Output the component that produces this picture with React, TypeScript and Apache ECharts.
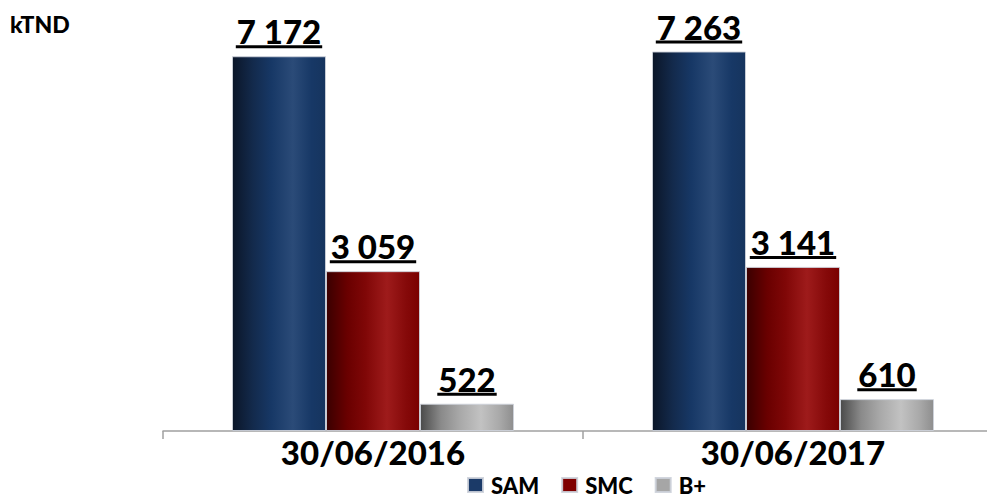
import React, { useEffect, useRef } from "react";
import * as echarts from "echarts";

const categories = ["30/06/2016", "30/06/2017"];
const seriesNames = ["SAM", "SMC", "B+"];
const samValues = [7172, 7263];
const smcValues = [3059, 3141];
const bplusValues = [522, 610];
const unitLabel = "kTND";

const FONT = "Lato";
const WEIGHT = 900;
const legendColors = ["#1b3a68", "#7f0000", "#a6a6a6"];
const gradients = [
  [
    [0, "#0b1628"],
    [0.22, "#132a4c"],
    [0.42, "#173866"],
    [0.65, "#2b4b78"],
    [0.85, "#173866"],
    [1, "#16345e"],
  ],
  [
    [0, "#3a0000"],
    [0.22, "#690000"],
    [0.42, "#800707"],
    [0.65, "#9e1b1b"],
    [0.85, "#860a0a"],
    [1, "#7a0000"],
  ],
  [
    [0, "#4a4a4a"],
    [0.22, "#8a8a8a"],
    [0.42, "#a8a8a8"],
    [0.65, "#c2c2c2"],
    [0.85, "#a9a9a9"],
    [1, "#8e8e8e"],
  ],
];

function fmt(v: number): string {
  return String(v).replace(/\B(?=(\d{3})+(?!\d))/g, " ");
}

let measureCtx: CanvasRenderingContext2D | null = null;
function textWidth(s: string, font: string): number {
  if (!measureCtx) {
    const c = document.createElement("canvas");
    measureCtx = c.getContext("2d");
  }
  if (!measureCtx) return s.length * 18;
  measureCtx.font = font;
  return measureCtx.measureText(s).width;
}

export default function App() {
  const ref = useRef<HTMLDivElement>(null);
  useEffect(() => {
    document.body.style.margin = "0";
    document.body.style.overflow = "hidden";
    if (!ref.current) return;
    const chart = echarts.init(ref.current, null, { renderer: "svg" });
    const valueSets = [samValues, smcValues, bplusValues];
    const labelFont = `${WEIGHT} 33px ${FONT}`;
    const series = seriesNames.map((name, si) => ({
      name,
      type: "bar",
      barWidth: 94,
      barGap: "0%",
      itemStyle: {
        color: new echarts.graphic.LinearGradient(
          0,
          0,
          1,
          0,
          gradients[si].map(([o, c]) => ({ offset: o as number, color: c as string }))
        ),
        borderColor: "rgba(205,210,218,0.9)",
        borderWidth: 1,
      },
      label: {
        show: true,
        position: "top",
        distance: 8,
        formatter: (p: any) => `{v|${fmt(p.value)}}\n{u|}`,
      },
      data: valueSets[si].map((v) => {
        const w = textWidth(fmt(v), labelFont) + 2;
        return {
          value: v,
          label: {
            rich: {
              v: {
                fontFamily: FONT,
                fontWeight: WEIGHT,
                fontSize: 33,
                lineHeight: 28,
                color: "#000",
                align: "center",
              },
              u: {
                width: w,
                height: 3,
                lineHeight: 3,
                backgroundColor: "#000",
                align: "center",
              },
            },
          },
        };
      }),
    }));

    chart.setOption({
      animation: false,
      title: {
        text: unitLabel,
        left: 10,
        top: 12,
        padding: 0,
        textStyle: {
          fontFamily: FONT,
          fontWeight: WEIGHT,
          fontSize: 23,
          lineHeight: 23,
          color: "#000",
        },
      },
      legend: {
        data: seriesNames.map((n, i) => ({ name: n, itemStyle: { color: legendColors[i] } })),
        left: 467,
        top: 474,
        padding: 0,
        itemWidth: 15,
        itemHeight: 14,
        itemGap: 22,
        icon: "rect",
        textStyle: {
          fontFamily: FONT,
          fontWeight: WEIGHT,
          fontSize: 22,
          lineHeight: 20,
          color: "#000",
          padding: [0, 0, 0, 3],
        },
      },
      grid: {
        left: 163,
        right: 0,
        top: 13,
        bottom: 498 - 431,
        containLabel: false,
      },
      xAxis: {
        type: "category",
        data: categories,
        axisLine: { lineStyle: { color: "#a0a0a0", width: 1.5 } },
        axisTick: { show: true, length: 8, lineStyle: { color: "#a0a0a0", width: 1.5 } },
        axisLabel: {
          fontFamily: FONT,
          fontWeight: WEIGHT,
          fontSize: 33,
          lineHeight: 33,
          color: "#000",
          margin: 4,
        },
      },
      yAxis: {
        type: "value",
        min: 0,
        max: 8000,
        show: false,
        splitLine: { show: false },
      },
      series,
    });
    return () => chart.dispose();
  }, []);
  return (
    <div style={{ width: 987, height: 498, overflow: "hidden" }}>
      <div ref={ref} style={{ width: 1003, height: 498 }} />
    </div>
  );
}
